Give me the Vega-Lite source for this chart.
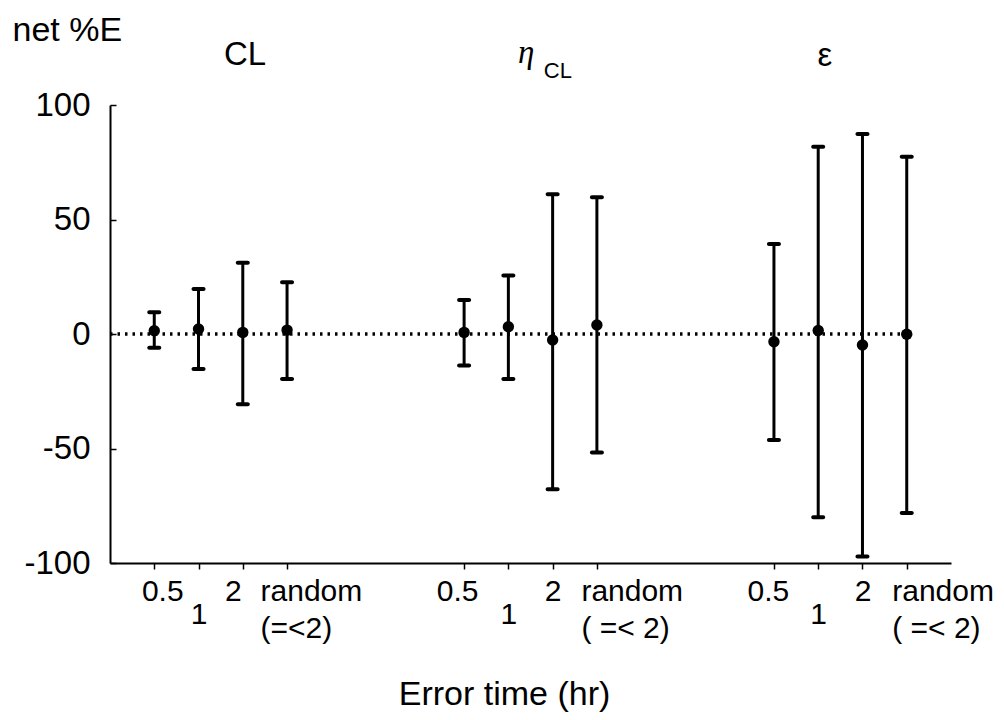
{
  "$schema": "https://vega.github.io/schema/vega-lite/v6.json",
  "width": 841,
  "height": 458,
  "autosize": {"type": "none"},
  "padding": {"left": 110, "top": 105, "right": 53, "bottom": 157},
  "background": "white",
  "config": {
    "view": {"stroke": null},
    "font": "Liberation Sans",
    "axis": {"grid": false, "domainColor": "black", "domainWidth": 2, "tickColor": "black", "tickWidth": 1.5, "labelColor": "black", "titleColor": "black", "labelFont": "Liberation Sans", "titleFont": "Liberation Sans", "titleFontWeight": "normal"}
  },
  "datasets": {
    "stats": [
      {"group": "CL", "time": "0.5", "slot": 1, "mean": 1.4, "lo": -6, "hi": 9.5},
      {"group": "CL", "time": "1", "slot": 2, "mean": 2.2, "lo": -15.3, "hi": 19.7},
      {"group": "CL", "time": "2", "slot": 3, "mean": 0.7, "lo": -30.7, "hi": 31.1},
      {"group": "CL", "time": "random", "slot": 4, "mean": 1.7, "lo": -19.7, "hi": 22.6},
      {"group": "etaCL", "time": "0.5", "slot": 8, "mean": 0.7, "lo": -13.8, "hi": 14.8},
      {"group": "etaCL", "time": "1", "slot": 9, "mean": 3.2, "lo": -19.7, "hi": 25.5},
      {"group": "etaCL", "time": "2", "slot": 10, "mean": -2.6, "lo": -67.8, "hi": 61},
      {"group": "etaCL", "time": "random", "slot": 11, "mean": 3.9, "lo": -51.8, "hi": 59.7},
      {"group": "epsilon", "time": "0.5", "slot": 15, "mean": -3.4, "lo": -46.3, "hi": 39.3},
      {"group": "epsilon", "time": "1", "slot": 16, "mean": 1.5, "lo": -80, "hi": 81.8},
      {"group": "epsilon", "time": "2", "slot": 17, "mean": -4.8, "lo": -97.2, "hi": 87.3},
      {"group": "epsilon", "time": "random", "slot": 18, "mean": -0.1, "lo": -78.2, "hi": 77.4}
    ]
  },
  "layer": [
    {
      "data": {"values": [{"x0": 0, "x1": 18.1, "y": 0}]},
      "mark": {"type": "rule", "color": "black", "strokeWidth": 3.5, "strokeDash": [2.5, 5]},
      "encoding": {
        "x": {"field": "x0", "type": "quantitative", "scale": {"domain": [0, 19], "nice": false, "zero": false},
          "axis": {
            "values": [1, 2, 3, 4, 8, 9, 10, 11, 15, 16, 17, 18],
            "title": "Error time (hr)",
            "titleFontSize": 34,
            "titleX": 394,
            "titleY": 141,
            "titleAlign": "center",
            "titleBaseline": "alphabetic",
            "tickSize": 6,
            "labelPadding": {"condition": {"test": "datum.value % 7 == 2", "value": 30}, "value": 7},
            "labelBaseline": "top",
            "labelFontSize": 30,
            "labelLineHeight": 37,
            "labelFlush": false,
            "labelOverlap": false,
            "labelAlign": {"condition": {"test": "datum.value % 7 == 4", "value": "left"}, "value": "center"},
            "labelOffset": {"condition": [
              {"test": "datum.value == 1", "value": 8},
              {"test": "datum.value == 8", "value": -7},
              {"test": "datum.value == 15", "value": -6},
              {"test": "datum.value == 3", "value": -10},
              {"test": "datum.value == 4", "value": -27},
              {"test": "datum.value == 11", "value": -16},
              {"test": "datum.value == 18", "value": -15}
            ], "value": 0},
            "labelExpr": "datum.value % 7 == 1 ? '0.5' : datum.value % 7 == 2 ? '1' : datum.value % 7 == 3 ? '2' : datum.value < 7 ? ['random', '(=<2)'] : ['random', '( =< 2)']"
          }
        },
        "x2": {"field": "x1"},
        "y": {"field": "y", "type": "quantitative", "scale": {"domain": [-100, 100], "nice": false},
          "axis": {
            "values": [-100, -50, 0, 50, 100],
            "labelExpr": "toString(datum.value)",
            "title": "net %E",
            "titleAngle": 0,
            "titleFontSize": 34,
            "titleX": -98,
            "titleY": -65,
            "titleAlign": "left",
            "titleBaseline": "alphabetic",
            "tickSize": -6,
            "labelPadding": 26,
            "labelFontSize": 33,
            "labelBaseline": "middle"
          }
        }
      }
    },
    {
      "data": {"name": "stats"},
      "mark": {"type": "rule", "color": "black", "strokeWidth": 3},
      "encoding": {
        "x": {"field": "slot", "type": "quantitative"},
        "y": {"field": "lo", "type": "quantitative"},
        "y2": {"field": "hi"}
      }
    },
    {
      "data": {"name": "stats"},
      "mark": {"type": "tick", "orient": "horizontal", "color": "black", "size": 14, "thickness": 4, "cornerRadius": 2, "opacity": 1},
      "encoding": {
        "x": {"field": "slot", "type": "quantitative"},
        "y": {"field": "hi", "type": "quantitative"}
      }
    },
    {
      "data": {"name": "stats"},
      "mark": {"type": "tick", "orient": "horizontal", "color": "black", "size": 14, "thickness": 4, "cornerRadius": 2, "opacity": 1},
      "encoding": {
        "x": {"field": "slot", "type": "quantitative"},
        "y": {"field": "lo", "type": "quantitative"}
      }
    },
    {
      "data": {"name": "stats"},
      "mark": {"type": "point", "filled": true, "color": "black", "size": 130, "opacity": 1},
      "encoding": {
        "x": {"field": "slot", "type": "quantitative"},
        "y": {"field": "mean", "type": "quantitative"}
      }
    },
    {
      "data": {"values": [{"x": 3.05, "y": 117.5, "t": "CL"}, {"x": 16.15, "y": 117, "t": "ε"}]},
      "mark": {"type": "text", "color": "black", "fontSize": 33, "align": "center", "baseline": "alphabetic", "font": "Liberation Sans"},
      "encoding": {
        "x": {"field": "x", "type": "quantitative"},
        "y": {"field": "y", "type": "quantitative"},
        "text": {"field": "t"}
      }
    },
    {
      "data": {"values": [{"x": 9.4, "y": 118.3, "t": "η"}]},
      "mark": {"type": "text", "color": "black", "fontSize": 33, "fontStyle": "italic", "align": "center", "baseline": "alphabetic", "font": "Liberation Serif"},
      "encoding": {
        "x": {"field": "x", "type": "quantitative"},
        "y": {"field": "y", "type": "quantitative"},
        "text": {"field": "t"}
      }
    },
    {
      "data": {"values": [{"x": 9.8, "y": 112, "t": "CL"}]},
      "mark": {"type": "text", "color": "black", "fontSize": 22, "align": "left", "baseline": "alphabetic", "font": "Liberation Sans"},
      "encoding": {
        "x": {"field": "x", "type": "quantitative"},
        "y": {"field": "y", "type": "quantitative"},
        "text": {"field": "t"}
      }
    }
  ]
}
